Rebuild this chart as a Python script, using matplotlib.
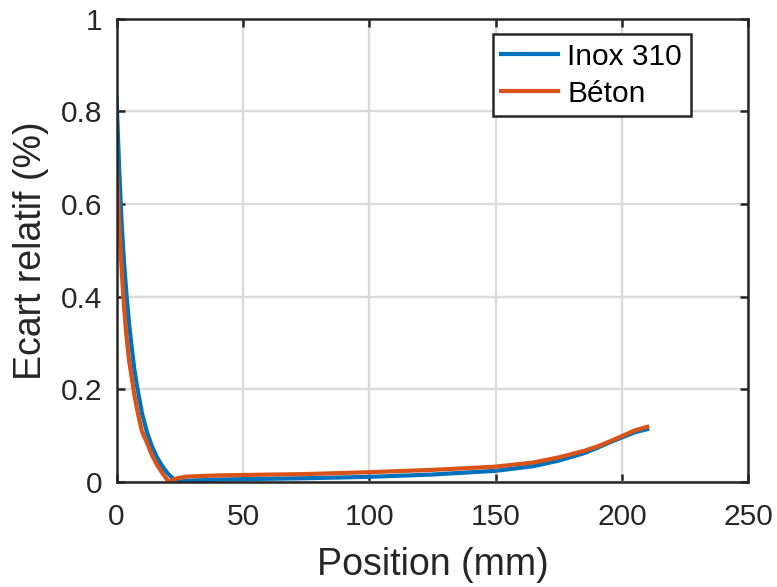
import matplotlib
matplotlib.use("Agg")
import matplotlib.pyplot as plt

plt.rcParams["font.family"] = ["Liberation Sans", "DejaVu Sans"]

# Inox 310
x_inox = [0, 1, 2, 3, 4, 5, 6, 7, 8, 10, 12, 14, 16, 18, 20, 22, 24, 25, 27, 30,
          40, 50, 75, 100, 125, 150, 165, 175, 185, 190, 195, 200, 205, 210]
y_inox = [0.83, 0.68, 0.56, 0.47, 0.40, 0.34, 0.29, 0.245, 0.21, 0.15, 0.108,
          0.077, 0.053, 0.035, 0.02, 0.009, 0.002, 0.0005, 0.002, 0.003,
          0.005, 0.006, 0.008, 0.011, 0.016, 0.024, 0.034, 0.046, 0.062,
          0.073, 0.085, 0.096, 0.107, 0.114]

# Béton
x_beton = [0, 1, 2, 3, 4, 5, 6, 7, 8, 10, 12, 14, 16, 18, 20, 21, 22, 24, 27, 30,
           40, 50, 75, 100, 125, 150, 165, 175, 185, 190, 195, 200, 205, 210]
y_beton = [0.69, 0.56, 0.46, 0.375, 0.31, 0.26, 0.225, 0.19, 0.16, 0.11, 0.085,
           0.058, 0.037, 0.02, 0.005, 0.0, 0.004, 0.008, 0.011, 0.012,
           0.014, 0.015, 0.017, 0.021, 0.026, 0.033, 0.042, 0.053, 0.067,
           0.076, 0.087, 0.099, 0.111, 0.119]

xticks = [0, 50, 100, 150, 200, 250]
yticks = [0, 0.2, 0.4, 0.6, 0.8, 1]
ytick_labels = ["0", "0.2", "0.4", "0.6", "0.8", "1"]

fig = plt.figure(figsize=(7.77, 5.87), dpi=100)
ax = fig.add_axes([0.150, 0.179, 0.813, 0.789])

ax.plot(x_inox, y_inox, color="#0072BD", linewidth=3, label="Inox 310")
ax.plot(x_beton, y_beton, color="#D95319", linewidth=3, label="Béton")

ax.set_xlim(0, 250)
ax.set_ylim(0, 1)
ax.set_xticks(xticks)
ax.set_yticks(yticks)
ax.set_yticklabels(ytick_labels)

ax.grid(True, color="#dadada", linewidth=1.7)
ax.set_axisbelow(True)
ax.tick_params(direction="in", length=6, width=1.8, top=True, right=True,
               labelsize=21.5, colors="#262626")
ax.tick_params(axis="x", pad=15)
ax.tick_params(axis="y", pad=10)
for spine in ax.spines.values():
    spine.set_linewidth(1.8)
    spine.set_color("#262626")

ax.set_xlabel("Position (mm)", fontsize=27, color="#262626", labelpad=12)
ax.set_ylabel("Ecart relatif (%)", fontsize=27, color="#262626", labelpad=9)

leg = ax.legend(loc="upper right", bbox_to_anchor=(0.909, 0.968), fontsize=21.5,
                frameon=True, fancybox=False, handlelength=1.9,
                handletextpad=0.3, borderpad=0.3, labelspacing=0.3,
                borderaxespad=0)
leg.get_frame().set_edgecolor("#262626")
leg.get_frame().set_linewidth(1.8)
leg.get_frame().set_alpha(1)

fig.savefig("out.png", dpi=100)
